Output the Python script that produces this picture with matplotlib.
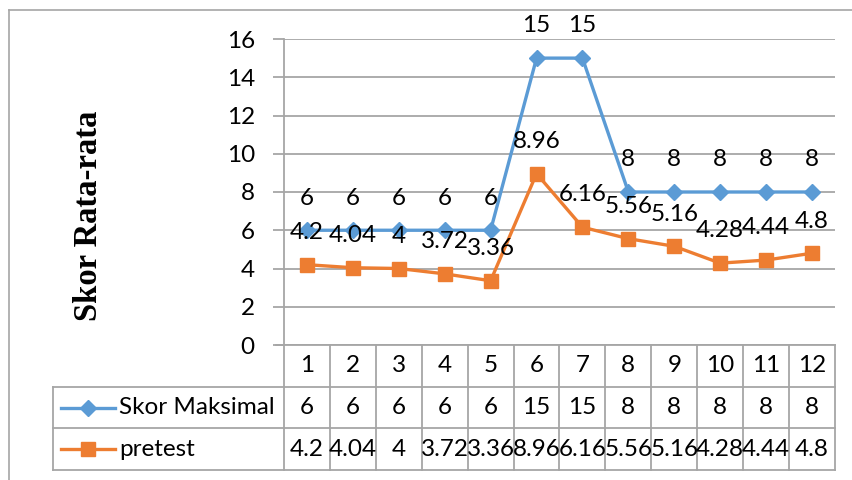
import matplotlib
matplotlib.use("Agg")
import matplotlib.pyplot as plt
from matplotlib.lines import Line2D
from matplotlib.transforms import blended_transform_factory

# ---- data -------------------------------------------------------------
categories = ["1", "2", "3", "4", "5", "6", "7", "8", "9", "10", "11", "12"]
skor_maksimal = [6, 6, 6, 6, 6, 15, 15, 8, 8, 8, 8, 8]
pretest = [4.2, 4.04, 4, 3.72, 3.36, 8.96, 6.16, 5.56, 5.16, 4.28, 4.44, 4.8]
series_names = ["Skor Maksimal", "pretest"]
y_ticks = [0, 2, 4, 6, 8, 10, 12, 14, 16]
y_label = "Skor Rata-rata"

# ---- style ------------------------------------------------------------
BLUE = "#5B9BD5"
ORANGE = "#ED7D31"
GRID = "#A6A6A6"
FONT = "Lato"
FS = 17.5
plt.rcParams["font.family"] = [FONT, "DejaVu Sans"]

W, H = 853, 480
fig = plt.figure(figsize=(W / 100, H / 100), dpi=100)


def px_rect(left, top, right, bottom):
    return [left / W, 1 - bottom / H, (right - left) / W, (bottom - top) / H]


def fx(px):
    return px / W


def fy(py):
    return 1 - py / H


# outer chart frame
fig.add_artist(Line2D([fx(9), fx(853)], [fy(10), fy(10)], color=GRID, lw=1.2))
fig.add_artist(Line2D([fx(9), fx(9)], [fy(10), fy(480)], color=GRID, lw=1.2))

ax = fig.add_axes(px_rect(284, 39, 835, 345))
x = list(range(len(categories)))
ax.set_xlim(-0.5, len(categories) - 0.5)
ax.set_ylim(y_ticks[0], y_ticks[-1])
ax.set_yticks(y_ticks)
ax.set_xticks([])
ax.grid(axis="y", color=GRID, lw=1.3)
ax.set_axisbelow(True)
for s in ["top", "right", "bottom", "left"]:
    ax.spines[s].set_visible(False)
ax.tick_params(axis="y", length=8, color=GRID, width=1.3, labelsize=FS, pad=13)

# series
D_MS, S_MS = 8, 10.5
ax.plot(x, skor_maksimal, color=BLUE, lw=2.4, marker="D", ms=D_MS, zorder=3,
        clip_on=False)
ax.plot(x, pretest, color=ORANGE, lw=2.4, marker="s", ms=S_MS, zorder=3,
        clip_on=False)

for xs, ys in ((x, skor_maksimal), (x, pretest)):
    for xi, yi in zip(xs, ys):
        ax.annotate(f"{yi:g}", (xi, yi), xytext=(0, 18.5),
                    textcoords="offset points", ha="center", va="baseline",
                    fontsize=FS, color="black", zorder=4, annotation_clip=False)

# ---- data table under the plot ---------------------------------------
tr = blended_transform_factory(ax.transData, ax.transAxes)
trf = blended_transform_factory(fig.transFigure, ax.transAxes)
ax_h = 345 - 39


def ya(py):
    return (345 - py) / ax_h


row_edges = [345, 387, 428, 470]
row_centers = [366, 408, 449]

# vertical axis line running through the table
ax.add_line(Line2D([-0.5, -0.5], [1, ya(470)], transform=tr, color=GRID,
                   lw=1.3, clip_on=False))
# cell dividers
for i in range(1, len(categories) + 1):
    ax.add_line(Line2D([i - 0.5, i - 0.5], [0, ya(470)], transform=tr,
                       color=GRID, lw=1.3, clip_on=False))
# horizontal rules
ax.add_line(Line2D([fx(276), fx(835)], [0, 0], transform=trf, color=GRID,
                   lw=1.3, clip_on=False))
for py in row_edges[1:]:
    ax.add_line(Line2D([fx(53), fx(835)], [ya(py), ya(py)], transform=trf,
                       color=GRID, lw=1.3, clip_on=False))
ax.add_line(Line2D([fx(53), fx(53)], [ya(387), ya(470)], transform=trf,
                   color=GRID, lw=1.3, clip_on=False))

for xi, c in zip(x, categories):
    ax.text(xi, ya(row_centers[0]), c, transform=tr, ha="center",
            va="center", fontsize=FS)
for r, vals in enumerate((skor_maksimal, pretest)):
    for xi, v in zip(x, vals):
        ax.text(xi, ya(row_centers[r + 1]), f"{v:g}", transform=tr,
                ha="center", va="center", fontsize=FS)

# legend keys in the table
for r, (name, col, mk, ms) in enumerate(zip(series_names, (BLUE, ORANGE),
                                            ("D", "s"), (D_MS, S_MS))):
    yc = ya(row_centers[r + 1])
    ax.add_line(Line2D([fx(61), fx(115)], [yc, yc], transform=trf, color=col,
                       lw=2.4, clip_on=False))
    ax.add_line(Line2D([fx(88)], [yc], transform=trf, color=col, marker=mk,
                       ms=ms, clip_on=False))
    ax.text(fx(119), yc, name, transform=trf, ha="left", va="center",
            fontsize=FS)

# axis title
fig.text(fx(89), fy(216), y_label, rotation=90, ha="center", va="center",
         family=["Liberation Serif", "DejaVu Serif"], fontweight="bold",
         fontsize=23.5)

fig.savefig("out.png", dpi=100, facecolor="white")
